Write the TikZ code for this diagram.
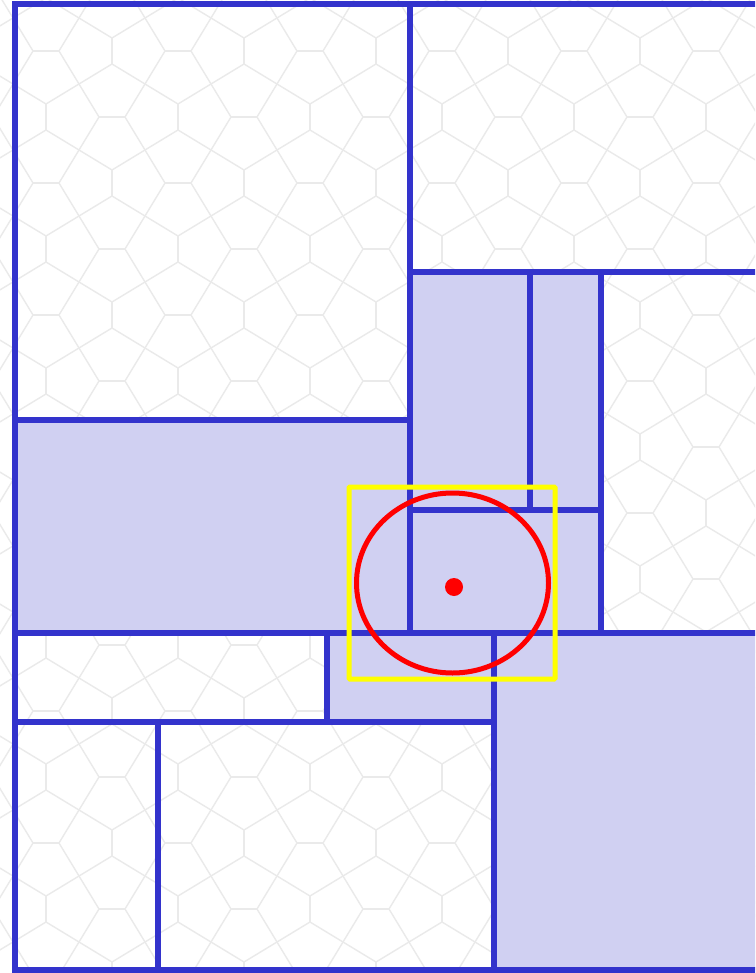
\documentclass[tikz,border=0pt]{standalone}
\definecolor{edgeblue}{RGB}{51,51,204}
\definecolor{fillblue}{RGB}{208,208,242}
\definecolor{tileline}{RGB}{234,234,234}
\definecolor{markred}{RGB}{255,0,0}
\definecolor{markyellow}{RGB}{255,255,0}
\tikzset{
  tileedge/.style={draw=tileline, line width=1.4pt, line cap=round, line join=round},
  wall/.style={draw=edgeblue, line width=5.2pt, line cap=rect},
  cellfill/.style={fill=fillblue},
}
\begin{document}
\begin{tikzpicture}[x=1pt,y=-1pt]
\useasboundingbox (0,0) rectangle (755,973);
\begin{scope}
\clip (0,0) rectangle (755,973);
\fill[white] (0,0) rectangle (755,973);
% background pentagonal (Cairo) tiling
\foreach \i in {0,...,12} {
  \foreach \j in {0,...,15} {
    \pgfmathsetmacro\cx{\i*66-20}
    \pgfmathsetmacro\cy{\j*66-15}
    \pgfmathtruncatemacro\pp{mod(\i+\j,2)}
    \ifnum\pp=0
      \draw[tileedge] (\cx-33,\cy-33) -- (\cx-13,\cy) -- (\cx-33,\cy+33);
      \draw[tileedge] (\cx-13,\cy) -- (\cx+13,\cy);
      \draw[tileedge] (\cx+33,\cy-33) -- (\cx+13,\cy) -- (\cx+33,\cy+33);
    \else
      \draw[tileedge] (\cx-33,\cy-33) -- (\cx,\cy-13) -- (\cx+33,\cy-33);
      \draw[tileedge] (\cx,\cy-13) -- (\cx,\cy+13);
      \draw[tileedge] (\cx-33,\cy+33) -- (\cx,\cy+13) -- (\cx+33,\cy+33);
    \fi
  }
}
% filled cells
\fill[cellfill] (410,272) rectangle (601,633);
\fill[cellfill] (15,420) rectangle (410,633);
\fill[cellfill] (327,633) rectangle (494,722);
\fill[cellfill] (494,633) rectangle (770,970);
% walls
\draw[wall] (15,4) -- (15,970);
\draw[wall] (410,4) -- (410,633);
\draw[wall] (530,272) -- (530,510);
\draw[wall] (601,272) -- (601,633);
\draw[wall] (327,633) -- (327,722);
\draw[wall] (494,633) -- (494,970);
\draw[wall] (158,722) -- (158,970);
\draw[wall] (15,4) -- (770,4);
\draw[wall] (410,272) -- (770,272);
\draw[wall] (15,420) -- (410,420);
\draw[wall] (410,510) -- (601,510);
\draw[wall] (15,633) -- (770,633);
\draw[wall] (15,722) -- (494,722);
\draw[wall] (15,970) -- (770,970);
% markers
\node[draw=markyellow, line width=5pt, rounded corners=1pt, minimum width=206pt, minimum height=192pt, inner sep=0pt] (view) at (452,583) {};
\draw[draw=markred, line width=5pt] (452.5,583) ellipse [x radius=96, y radius=90];
\fill[markred] (454,587) circle [radius=9];
\end{scope}
\end{tikzpicture}
\end{document}
